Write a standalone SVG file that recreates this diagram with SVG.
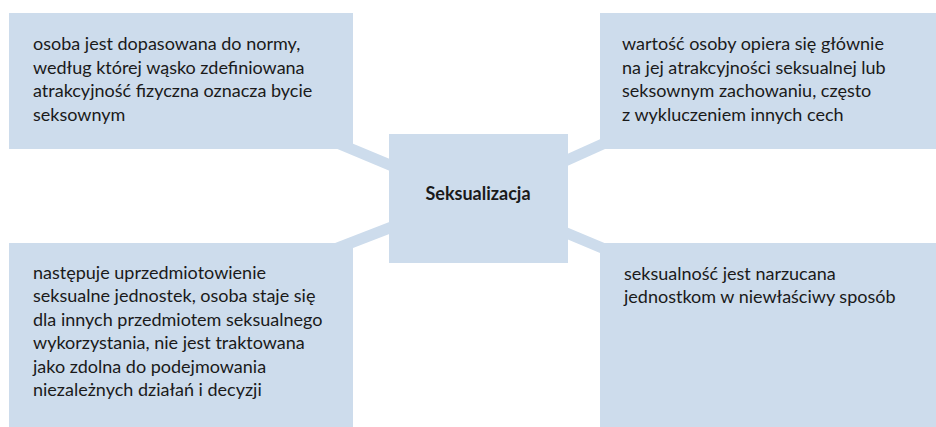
<svg xmlns="http://www.w3.org/2000/svg" width="936" height="427" viewBox="0 0 936 427">
<style>
.box{fill:#cddcec}
.conn{stroke:#cddcec;stroke-width:11;fill:none}
text{font-family:Lato,"Noto Sans",sans-serif;font-size:18px;fill:#1a1a1a}
.title{font-weight:bold;font-size:18px}
</style>
<rect width="936" height="427" fill="#ffffff"/>
<g id="connectors">
<line class="conn" x1="330" y1="140" x2="410" y2="173.3"/>
<line class="conn" x1="545" y1="170" x2="625" y2="134"/>
<line class="conn" x1="330" y1="251" x2="410" y2="220"/>
<line class="conn" x1="545" y1="224" x2="625" y2="257.5"/>
</g>
<g id="center">
<rect class="box" x="389" y="134" width="179" height="129"/>
<text class="title" x="478" y="200" text-anchor="middle">Seksualizacja</text>
</g>
<g id="top-left">
<rect class="box" x="9" y="13" width="344" height="136"/>
<text x="33" y="50">osoba jest dopasowana do normy,</text>
<text x="33" y="73.6">według której wąsko zdefiniowana</text>
<text x="33" y="97.2">atrakcyjność fizyczna oznacza bycie</text>
<text x="33" y="120.8">seksownym</text>
</g>
<g id="top-right">
<rect class="box" x="600" y="13" width="336" height="136"/>
<text x="622" y="50">wartość osoby opiera się głównie</text>
<text x="622" y="73.6">na jej atrakcyjności seksualnej lub</text>
<text x="622" y="97.2">seksownym zachowaniu, często</text>
<text x="622" y="120.8">z wykluczeniem innych cech</text>
</g>
<g id="bottom-left">
<rect class="box" x="9" y="243" width="344" height="184"/>
<text x="33" y="279">następuje uprzedmiotowienie</text>
<text x="33" y="302.4">seksualne jednostek, osoba staje się</text>
<text x="33" y="325.8">dla innych przedmiotem seksualnego</text>
<text x="33" y="349.2">wykorzystania, nie jest traktowana</text>
<text x="33" y="372.6">jako zdolna do podejmowania</text>
<text x="33" y="396">niezależnych działań i decyzji</text>
</g>
<g id="bottom-right">
<rect class="box" x="600" y="243" width="336" height="184"/>
<text x="624" y="280">seksualność jest narzucana</text>
<text x="624" y="303.4">jednostkom w niewłaściwy sposób</text>
</g>
</svg>
